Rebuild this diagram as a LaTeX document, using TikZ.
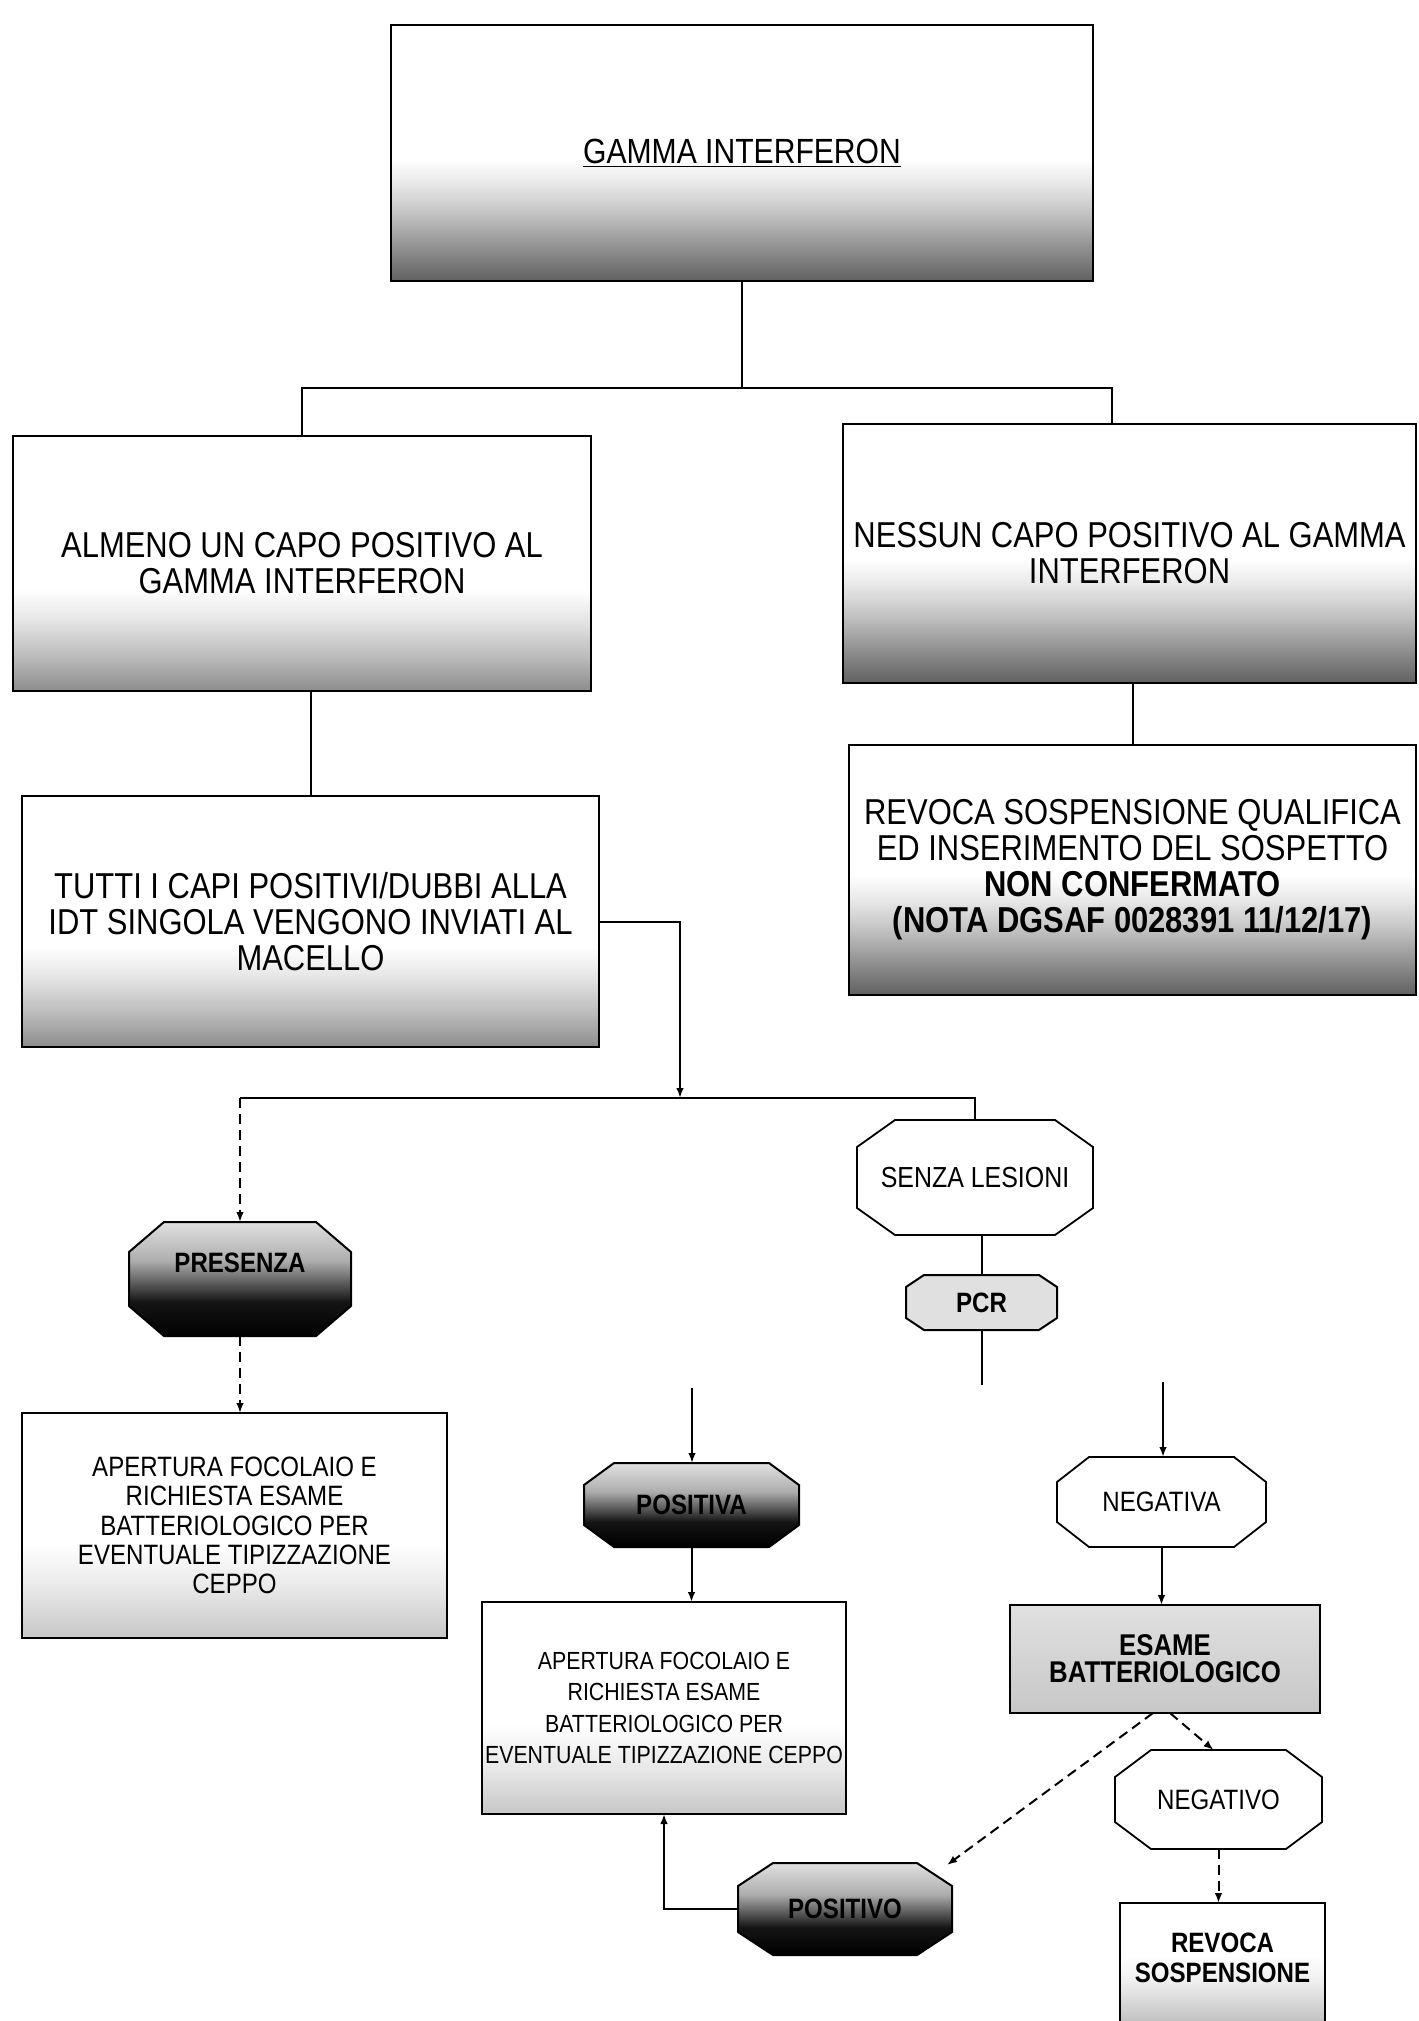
\documentclass[tikz,border=0pt]{standalone}
\usepackage{fontspec}
\setmainfont{Liberation Sans}[FakeStretch=0.86]
\usetikzlibrary{calc,backgrounds,arrows.meta}

\pgfdeclareverticalshading{fadeDark}{100bp}{color(0bp)=(black!62); color(25bp)=(black!62); color(31bp)=(black!45); color(38bp)=(black!24); color(44bp)=(black!9); color(49bp)=(white); color(100bp)=(white)}
\pgfdeclareverticalshading{fadeMid}{100bp}{color(0bp)=(black!45); color(25bp)=(black!45); color(32bp)=(black!26); color(39bp)=(black!10); color(45bp)=(white); color(100bp)=(white)}
\pgfdeclareverticalshading{fadeLight}{100bp}{color(0bp)=(black!22); color(25bp)=(black!22); color(36bp)=(black!9); color(46bp)=(white); color(100bp)=(white)}
\pgfdeclareverticalshading{fadeGrey}{100bp}{color(0bp)=(black!22); color(25bp)=(black!22); color(75bp)=(black!12); color(100bp)=(black!12)}
\pgfdeclareverticalshading{fadeRev}{100bp}{color(0bp)=(black!50); color(25bp)=(black!50); color(38bp)=(black!22); color(50bp)=(black!6); color(58bp)=(white); color(100bp)=(white)}
\pgfdeclareverticalshading{darkOct}{100bp}{color(0bp)=(black); color(25bp)=(black); color(40bp)=(black!92); color(48bp)=(black!65); color(58bp)=(black!32); color(75bp)=(black!12); color(100bp)=(black!12)}

\newcommand\octo[4]{%
  \begin{scope}[on background layer]
  \path[#4] ($(#1.north west)+(#2,0)$) -- ($(#1.north east)+(-#2,0)$)
    -- ($(#1.north east)+(0,#3)$) -- ($(#1.south east)+(0,-#3)$)
    -- ($(#1.south east)+(-#2,0)$) -- ($(#1.south west)+(#2,0)$)
    -- ($(#1.south west)+(0,-#3)$) -- ($(#1.north west)+(0,#3)$) -- cycle;
  \end{scope}}

\tikzset{
  bigbox/.style={draw, line width=1.3pt, inner sep=0pt, outer sep=0pt, align=center,
    font=\fontsize{18}{18}\selectfont},
  smallbox/.style={draw, line width=1.2pt, inner sep=0pt, outer sep=0pt, align=center,
    font=\fontsize{12.4}{15.7}\selectfont},
  octnode/.style={inner sep=0pt, outer sep=0pt, align=center},
  octwhite/.style={draw, line width=0.9pt, fill=white},
  octdark/.style={draw, line width=1pt, shading=darkOct},
  conn/.style={line width=1pt},
  arr/.style={-{Latex[length=5pt,width=3.8pt]}},
  dsh/.style={dash pattern=on 5pt off 3pt}
}

\begin{document}
\begin{tikzpicture}[x=0.5pt,y=-0.5pt]
\useasboundingbox (0,0) rectangle (1418,2021);

% main boxes
\node[bigbox, shading=fadeDark, minimum width=351pt, minimum height=128pt] (A) at (742,153)
  {\fontsize{17.5}{18}\selectfont\underline{GAMMA INTERFERON}};
\node[bigbox, shading=fadeMid, minimum width=289pt, minimum height=127.5pt] (B) at (302,563.5)
  {ALMENO UN CAPO POSITIVO AL\\GAMMA INTERFERON};
\node[bigbox, shading=fadeDark, minimum width=286.5pt, minimum height=129.5pt] (C) at (1129.5,553.5)
  {NESSUN CAPO POSITIVO AL GAMMA\\INTERFERON};
\node[bigbox, shading=fadeMid, minimum width=288.5pt, minimum height=125.5pt] (D) at (310.5,921.5)
  {TUTTI I CAPI POSITIVI/DUBBI ALLA\\IDT SINGOLA VENGONO INVIATI AL\\MACELLO};
\node[bigbox, shading=fadeDark, minimum width=283.5pt, minimum height=125pt] (E) at (1132.5,870)
  {REVOCA SOSPENSIONE QUALIFICA\\ED INSERIMENTO DEL SOSPETTO\\\textbf{NON CONFERMATO}\\\textbf{(NOTA DGSAF 0028391 11/12/17)}};

% result boxes
\node[smallbox, shading=fadeLight, minimum width=212.5pt, minimum height=112.5pt,
  font=\fontsize{14}{14.7}\selectfont] (AP1) at (234.5,1525.5)
  {APERTURA FOCOLAIO E\\RICHIESTA ESAME\\BATTERIOLOGICO PER\\EVENTUALE TIPIZZAZIONE\\CEPPO};
\node[smallbox, shading=fadeLight, minimum width=182pt, minimum height=106pt] (AP2) at (664,1708)
  {APERTURA FOCOLAIO E\\RICHIESTA ESAME\\BATTERIOLOGICO PER\\EVENTUALE TIPIZZAZIONE CEPPO};
\node[smallbox, shading=fadeGrey, minimum width=155pt, minimum height=54pt,
  font=\fontsize{15}{13.5}\selectfont\bfseries] (ES) at (1165,1659)
  {ESAME\\BATTERIOLOGICO};
\node[octnode, minimum width=102.5pt, minimum height=54.5pt,
  font=\fontsize{14}{15}\selectfont\bfseries] (REV) at (1222.5,1957.5)
  {REVOCA\\SOSPENSIONE};
\begin{scope}[on background layer]
  \path[draw, line width=1.2pt, shading=fadeRev] (REV.north west) rectangle ($(REV.south east)+(0,45)$);
\end{scope}

% octagons
\node[octnode, minimum width=111pt, minimum height=57pt, text height=10.4pt, text depth=17pt,
  font=\fontsize{14}{14}\selectfont\bfseries] (PRES) at (240,1279) {PRESENZA};
\octo{PRES}{35}{30}{octdark}
\node[octnode, minimum width=118pt, minimum height=57.5pt,
  font=\fontsize{14.5}{15}\selectfont] (SENZA) at (975,1177.5) {SENZA LESIONI};
\octo{SENZA}{38}{27}{octwhite}
\node[octnode, minimum width=75.5pt, minimum height=27.5pt,
  font=\fontsize{14}{14}\selectfont\bfseries] (PCR) at (981.5,1302.5) {PCR};
\octo{PCR}{18}{12}{draw, line width=1pt, fill=black!12}
\node[octnode, minimum width=107.5pt, minimum height=42pt,
  font=\fontsize{14}{14}\selectfont\bfseries] (POSA) at (691.5,1505) {POSITIVA};
\octo{POSA}{30}{22}{octdark}
\node[octnode, minimum width=104.5pt, minimum height=45pt,
  font=\fontsize{14}{14}\selectfont] (NEGA) at (1161.5,1502) {NEGATIVA};
\octo{NEGA}{32}{25}{octwhite}
\node[octnode, minimum width=103.5pt, minimum height=49.5pt,
  font=\fontsize{14}{14}\selectfont] (NEGO) at (1218.5,1799.5) {NEGATIVO};
\octo{NEGO}{36}{27}{octwhite}
\node[octnode, minimum width=107pt, minimum height=46pt,
  font=\fontsize{14}{14}\selectfont\bfseries] (POSO) at (845,1909) {POSITIVO};
\octo{POSO}{35}{23}{octdark}

% connectors
\draw[conn] (A.south) -- ++(0,107) coordinate (j1);
\draw[conn] (B.north) |- (j1) -| ($(C.north)+(-18,0)$);
\draw[conn] (B.south -| D.north) -- (D.north);
\draw[conn] (C.south -| E.north) -- (E.north);
\coordinate (j2) at (680,1098);
\draw[conn,arr] (D.east) -| (j2);
\draw[conn] (PRES.north |- j2) -- (SENZA.north |- j2) -- (SENZA.north);
\draw[conn,dsh,arr] (PRES.north |- j2) -- (PRES.north);
\draw[conn] (SENZA.south -| PCR.north) -- (PCR.north);
\draw[conn] (PCR.south) -- ++(0,55) coordinate (pcrEnd);
\draw[conn,dsh,arr] (PRES.south) -- (PRES.south |- AP1.north);
\coordinate (s1) at (692,1388);
\draw[conn,arr] (s1) -- (s1 |- POSA.north);
\draw[conn,arr] (POSA.south) -- (POSA.south |- AP2.north);
\coordinate (s2) at (1163,1382);
\draw[conn,arr] (s2) -- (s2 |- NEGA.north);
\draw[conn,arr] (NEGA.south) -- (NEGA.south |- ES.north);
\draw[conn,dsh,arr] ($(ES.south)+(-12,0)$) -- ($(POSO.north east)+(-5,2)$);
\draw[conn,dsh,arr] ($(ES.south)+(5,0)$) -- ($(NEGO.north)+(-5,0)$);
\draw[conn,dsh,arr] (NEGO.south) -- (NEGO.south |- REV.north);
\draw[conn,arr] (POSO.west) -| (AP2.south);
\end{tikzpicture}
\end{document}
